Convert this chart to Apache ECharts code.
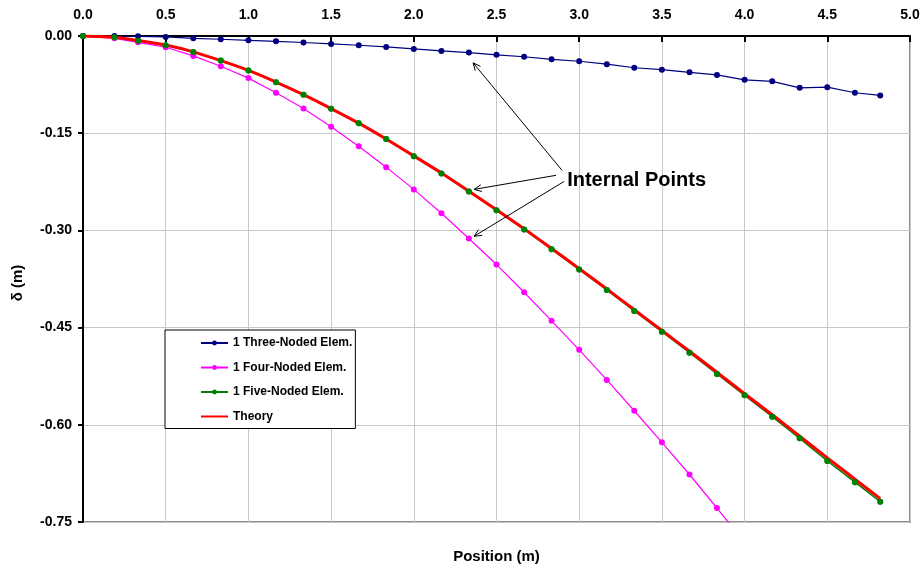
<!DOCTYPE html>
<html><head><meta charset="utf-8">
<script src="https://cdn.jsdelivr.net/npm/echarts@6/dist/echarts.min.js"></script>
<style>html,body{margin:0;padding:0;background:#fff}#c{width:924px;height:569px}</style>
</head><body><div id="c"></div>
<script>
// ---- data ----
const positions = [0, 0.19, 0.333, 0.5, 0.667, 0.833, 1.0, 1.167, 1.333, 1.5, 1.667, 1.833, 2.0, 2.167, 2.333, 2.5, 2.667, 2.833, 3.0, 3.167, 3.333, 3.5, 3.667, 3.833, 4.0, 4.167, 4.333, 4.5, 4.667, 4.82];
const threeNoded = [0, 0, -0.0005, -0.0015, -0.0036, -0.005, -0.0066, -0.0082, -0.010, -0.0123, -0.0143, -0.0169, -0.020, -0.023, -0.0256, -0.029, -0.032, -0.036, -0.039, -0.0435, -0.049, -0.052, -0.056, -0.060, -0.0676, -0.070, -0.080, -0.079, -0.0876, -0.0917];
const fourNoded = [0, -0.0036, -0.0097, -0.0174, -0.0307, -0.0466, -0.065, -0.0876, -0.112, -0.140, -0.170, -0.2024, -0.2367, -0.2735, -0.3125, -0.3527, -0.3955, -0.4395, -0.4843, -0.5307, -0.5783, -0.627, -0.6767, -0.7284, -0.782];
const fiveNoded = [0, -0.002, -0.0072, -0.0143, -0.0246, -0.038, -0.0533, -0.0712, -0.0907, -0.1122, -0.1348, -0.159, -0.1855, -0.212, -0.240, -0.269, -0.2986, -0.329, -0.3605, -0.392, -0.4242, -0.4564, -0.4887, -0.5215, -0.5545, -0.5876, -0.6209, -0.6557, -0.6885, -0.7187];
const theory = [0, -0.002, -0.007, -0.014, -0.0245, -0.038, -0.053, -0.071, -0.0905, -0.112, -0.1345, -0.159, -0.185, -0.2115, -0.2395, -0.268, -0.2975, -0.328, -0.359, -0.3905, -0.4225, -0.4545, -0.4865, -0.519, -0.552, -0.5845, -0.6175, -0.651, -0.684, -0.714];
const seriesNames = ['1 Three-Noded Elem.', '1 Four-Noded Elem.', '1 Five-Noded Elem.', 'Theory'];
const xTickLabels = ['0.0','0.5','1.0','1.5','2.0','2.5','3.0','3.5','4.0','4.5','5.0'];
const yTickLabels = ['-0.75','-0.60','-0.45','-0.30','-0.15','0.00'];
const annotationText = 'Internal Points';
const annotationAnchor = [2.927, -0.2228];
const annotationArrows = [
  [[2.897, -0.2075], [2.359, -0.0415]],
  [[2.86, -0.215], [2.365, -0.2367]],
  [[2.909, -0.2244], [2.365, -0.309]]
];

const pairs = (ys) => ys.map((y, i) => [positions[i], y]);
const FONT = "'Liberation Sans', Arial, sans-serif";

const chart = echarts.init(document.getElementById('c'), null, {renderer: 'canvas'});
const option = {
  animation: false,
  backgroundColor: '#fff',
  grid: {left: 83, right: 14, top: 36, bottom: 45, show: true, borderColor: '#8c8c8c', borderWidth: 2, backgroundColor: 'transparent'},
  legend: {
    data: [seriesNames[0], seriesNames[1], seriesNames[2], {name: seriesNames[3], itemStyle: {opacity: 0}}],
    orient: 'vertical', left: 165, top: 330,
    padding: [6, 3, 5, 35],
    itemWidth: 27, itemHeight: 6, itemGap: 10.5,
    backgroundColor: '#fff', borderColor: '#000', borderWidth: 1,
    textStyle: {fontFamily: FONT, fontWeight: 'bold', fontSize: 12, color: '#000', lineHeight: 14}
  },
  xAxis: [{
    type: 'value', position: 'top', min: 0, max: 5, interval: 0.5,
    axisLine: {lineStyle: {color: '#000', width: 2}},
    axisTick: {inside: true, length: 6, lineStyle: {color: '#000', width: 2}},
    axisLabel: {fontFamily: FONT, fontWeight: 'bold', fontSize: 14, color: '#000', margin: 14,
      formatter: (v) => xTickLabels[Math.round(v / 0.5)]},
    splitLine: {show: true, lineStyle: {color: '#c8c8c8', width: 1}}
  }, {
    type: 'value', position: 'bottom', min: 0, max: 5,
    name: 'Position (m)', nameLocation: 'middle', nameGap: 27,
    nameTextStyle: {fontFamily: FONT, fontWeight: 'bold', fontSize: 15, color: '#000'},
    axisLine: {show: false}, axisTick: {show: false}, axisLabel: {show: false}, splitLine: {show: false}
  }],
  yAxis: {
    type: 'value', min: -0.75, max: 0, interval: 0.15,
    name: 'δ (m)', nameLocation: 'middle', nameGap: 58, nameRotate: 90,
    nameTextStyle: {fontFamily: FONT, fontWeight: 'bold', fontSize: 15, color: '#000', padding: [0, 8, 0, 0]},
    axisLine: {show: true, lineStyle: {color: '#000', width: 2}},
    axisTick: {show: true, inside: false, length: 5, lineStyle: {color: '#000', width: 2}},
    axisLabel: {fontFamily: FONT, fontWeight: 'bold', fontSize: 14, color: '#000', margin: 11,
      formatter: (v) => yTickLabels[Math.round((v + 0.75) / 0.15)]},
    splitLine: {show: true, lineStyle: {color: '#c8c8c8', width: 1}}
  },
  series: [
    {name: seriesNames[0], type: 'line', data: pairs(threeNoded), symbol: 'circle', symbolSize: 6,
      itemStyle: {color: '#000080'}, lineStyle: {color: '#000080', width: 1.2}},
    {name: seriesNames[1], type: 'line', data: pairs(fourNoded), symbol: 'circle', symbolSize: 6,
      itemStyle: {color: '#ff00ff'}, lineStyle: {color: '#ff00ff', width: 1.2}},
    {name: seriesNames[2], type: 'line', data: pairs(fiveNoded), symbol: 'circle', symbolSize: 6,
      itemStyle: {color: '#008000'}, lineStyle: {color: '#008000', width: 1.5}},
    {name: seriesNames[3], type: 'line', data: pairs(theory), symbol: 'none', smooth: 0.2,
      itemStyle: {color: '#ff0000'}, lineStyle: {color: '#ff0000', width: 3}},
    {type: 'scatter', data: pairs(fiveNoded), symbol: 'circle', symbolSize: 6, z: 3, silent: true,
      itemStyle: {color: '#008000'}}
  ]
};
chart.setOption(option);

// annotation drawn from data coordinates
const px = (p) => chart.convertToPixel({gridIndex: 0}, p);
const graphics = [];
annotationArrows.forEach(([from, to]) => {
  const a = px(from), b = px(to);
  graphics.push({type: 'line', shape: {x1: a[0], y1: a[1], x2: b[0], y2: b[1]}, style: {stroke: '#000', lineWidth: 1}, z: 10});
  const dx = a[0] - b[0], dy = a[1] - b[1], len = Math.hypot(dx, dy);
  const ux = dx / len, uy = dy / len, L = 8, ang = 25 * Math.PI / 180;
  const rot = (s) => [b[0] + L * (ux * Math.cos(s) - uy * Math.sin(s)), b[1] + L * (ux * Math.sin(s) + uy * Math.cos(s))];
  graphics.push({type: 'polyline', shape: {points: [rot(ang), b, rot(-ang)]}, style: {stroke: '#000', lineWidth: 1, fill: null}, z: 10});
});
const t = px(annotationAnchor);
graphics.push({type: 'text', x: t[0], y: t[1], z: 10,
  style: {text: annotationText, fontFamily: FONT, fontWeight: 'bold', fontSize: 20, fill: '#000', textAlign: 'left', textVerticalAlign: 'middle'}});
chart.setOption({graphic: graphics});
</script>
</body></html>
